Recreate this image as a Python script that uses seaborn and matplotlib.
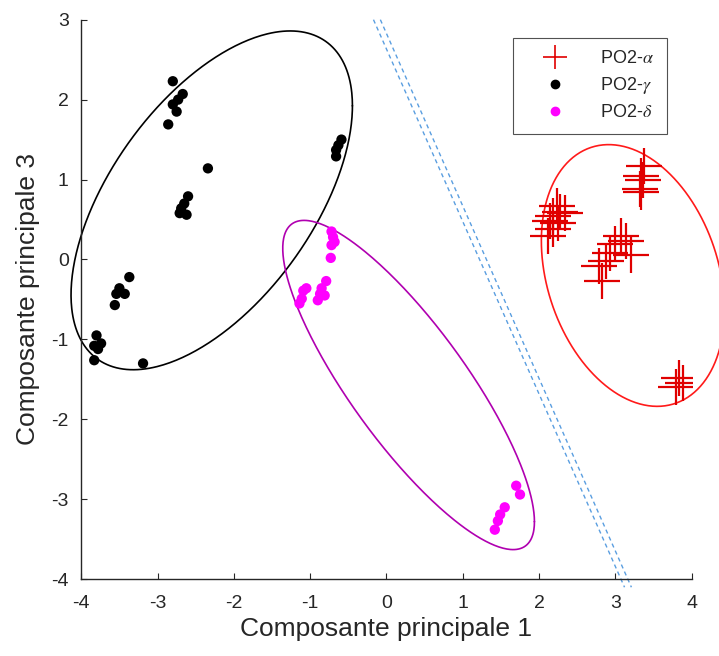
import numpy as np
import pandas as pd
import matplotlib
matplotlib.use("Agg")
import matplotlib.pyplot as plt
from matplotlib.lines import Line2D
import seaborn as sns

# ---------------- data ----------------
alpha_x = [3.38, 3.34, 3.36, 3.32, 3.34,
           2.23, 2.27, 2.18, 2.34, 2.14, 2.25, 2.18, 2.12,
           3.08, 3.14, 3.21, 2.99, 2.93, 2.88, 2.79, 2.82,
           3.84, 3.80, 3.88]
alpha_y = [1.17, 1.05, 1.00, 0.88, 0.85,
           0.67, 0.60, 0.54, 0.58, 0.48, 0.46, 0.38, 0.29,
           0.29, 0.23, 0.06, 0.19, 0.08, -0.02, -0.08, -0.27,
           -1.48, -1.59, -1.54]

gamma_x = [-2.80, -2.67, -2.73, -2.80, -2.75, -2.86, -2.34,
           -2.60, -2.65, -2.69, -2.71, -2.62,
           -0.59, -0.63, -0.66, -0.66,
           -3.37, -3.50, -3.43, -3.54, -3.56,
           -3.80, -3.74, -3.83, -3.78, -3.83, -3.19]
gamma_y = [2.23, 2.07, 2.00, 1.94, 1.85, 1.69, 1.14,
           0.79, 0.70, 0.64, 0.58, 0.56,
           1.50, 1.43, 1.37, 1.29,
           -0.22, -0.36, -0.43, -0.43, -0.57,
           -0.95, -1.05, -1.08, -1.12, -1.26, -1.30]

delta_x = [-0.72, -0.70, -0.68, -0.72, -0.73, -0.79, -1.05, -1.09,
           -0.85, -0.87, -0.81, -1.11, -0.90, -1.14,
           1.70, 1.75, 1.55, 1.49, 1.46, 1.42]
delta_y = [0.35, 0.28, 0.22, 0.18, 0.02, -0.27, -0.36, -0.39,
           -0.36, -0.43, -0.45, -0.49, -0.51, -0.55,
           -2.83, -2.94, -3.10, -3.19, -3.27, -3.38]

labels = [r"PO2-$\alpha$", r"PO2-$\gamma$", r"PO2-$\delta$"]

# ellipses: centre (x, y), covariance-like shape matrix [[sxx, sxy], [sxy, syy]]
ell_gamma_center = [-2.29, 0.74]
ell_gamma_shape = [[3.40, 2.18], [2.18, 4.49]]
ell_delta_center = [0.29, -1.57]
ell_delta_shape = [[2.72, -2.82], [-2.82, 4.24]]
ell_alpha_center = [3.23, -0.20]
ell_alpha_shape = [[1.44, -0.52], [-0.52, 2.68]]

# separating dashed lines (endpoints)
sep1_x = [-0.17, 3.12]
sep1_y = [3.00, -4.10]
sep2_x = [-0.08, 3.21]
sep2_y = [3.00, -4.10]

x_ticks = [-4, -3, -2, -1, 0, 1, 2, 3, 4]
y_ticks = [-4, -3, -2, -1, 0, 1, 2, 3]

# ---------------- plot ----------------
sns.set_theme(style="white")
plt.rcParams["font.family"] = ["Liberation Sans", "DejaVu Sans"]
plt.rcParams["mathtext.fontset"] = "stix"

fig = plt.figure(figsize=(7.19, 6.56), dpi=100)
ax = fig.add_axes([0.113, 0.117, 0.849, 0.853])

dark = "#262626"

def ellipse(center, shape, color):
    L = np.linalg.cholesky(np.array(shape))
    t = np.linspace(0, 2 * np.pi, 400)
    pts = L @ np.vstack([np.cos(t), np.sin(t)])
    d = pd.DataFrame({"x": pts[0] + center[0], "y": pts[1] + center[1]})
    sns.lineplot(data=d, x="x", y="y", sort=False, estimator=None, color=color,
                 lw=1.2, ax=ax, clip_on=False)

df_a = pd.DataFrame({"x": alpha_x, "y": alpha_y})
df_g = pd.DataFrame({"x": gamma_x, "y": gamma_y})
df_d = pd.DataFrame({"x": delta_x, "y": delta_y})

red = "#e00000"
sns.scatterplot(data=df_a, x="x", y="y", marker="+", s=700, color=red,
                linewidth=1.6, ax=ax, zorder=3)
sns.scatterplot(data=df_g, x="x", y="y", marker="o", s=55, color="black",
                edgecolor="none", ax=ax, zorder=3)
sns.scatterplot(data=df_d, x="x", y="y", marker="o", s=55, color="#ff00ff",
                edgecolor="none", ax=ax, zorder=3)

ellipse(ell_gamma_center, ell_gamma_shape, "black")
ellipse(ell_delta_center, ell_delta_shape, "#b000b0")
ellipse(ell_alpha_center, ell_alpha_shape, "#ff1a1a")

sep_color = "#5a9ee0"
for sx, sy in [(sep1_x, sep1_y), (sep2_x, sep2_y)]:
    sns.lineplot(x=sx, y=sy, color=sep_color, lw=1.0, ax=ax, clip_on=False,
                 dashes=False, linestyle=(0, (3, 2.5)))

ax.set_xlim(-4, 4)
ax.set_ylim(-4, 3)
ax.set_xticks(x_ticks)
ax.set_yticks(y_ticks)
ax.set_xticklabels([str(v) for v in x_ticks])
ax.set_yticklabels([str(v) for v in y_ticks])
ax.tick_params(direction="in", length=4, width=0.8, colors=dark, labelsize=14,
               bottom=True, left=True)
ax.tick_params(axis="x", pad=11)
ax.tick_params(axis="y", pad=9)
for s in ["top", "right"]:
    ax.spines[s].set_visible(False)
for s in ["left", "bottom"]:
    ax.spines[s].set_color(dark)
    ax.spines[s].set_linewidth(1.0)
ax.set_xlabel("Composante principale 1", fontsize=19, color=dark, labelpad=4)
ax.set_ylabel("Composante principale 3", fontsize=19, color=dark, labelpad=8)
ax.grid(False)

handles = [
    Line2D([], [], marker="+", color=red, linestyle="none", markersize=17, markeredgewidth=1.2),
    Line2D([], [], marker="o", color="black", linestyle="none", markersize=6),
    Line2D([], [], marker="o", color="#ff00ff", linestyle="none", markersize=6),
]
leg = ax.legend(handles, labels, loc="upper right", bbox_to_anchor=(0.959, 0.968),
                fontsize=13, frameon=True, fancybox=False, edgecolor=dark,
                handlelength=3.2, handletextpad=0.9, borderpad=0.7, labelspacing=0.45,
                borderaxespad=0)
leg.get_frame().set_linewidth(0.8)
for t in leg.get_texts():
    t.set_color(dark)

fig.savefig("out.png", dpi=100)
